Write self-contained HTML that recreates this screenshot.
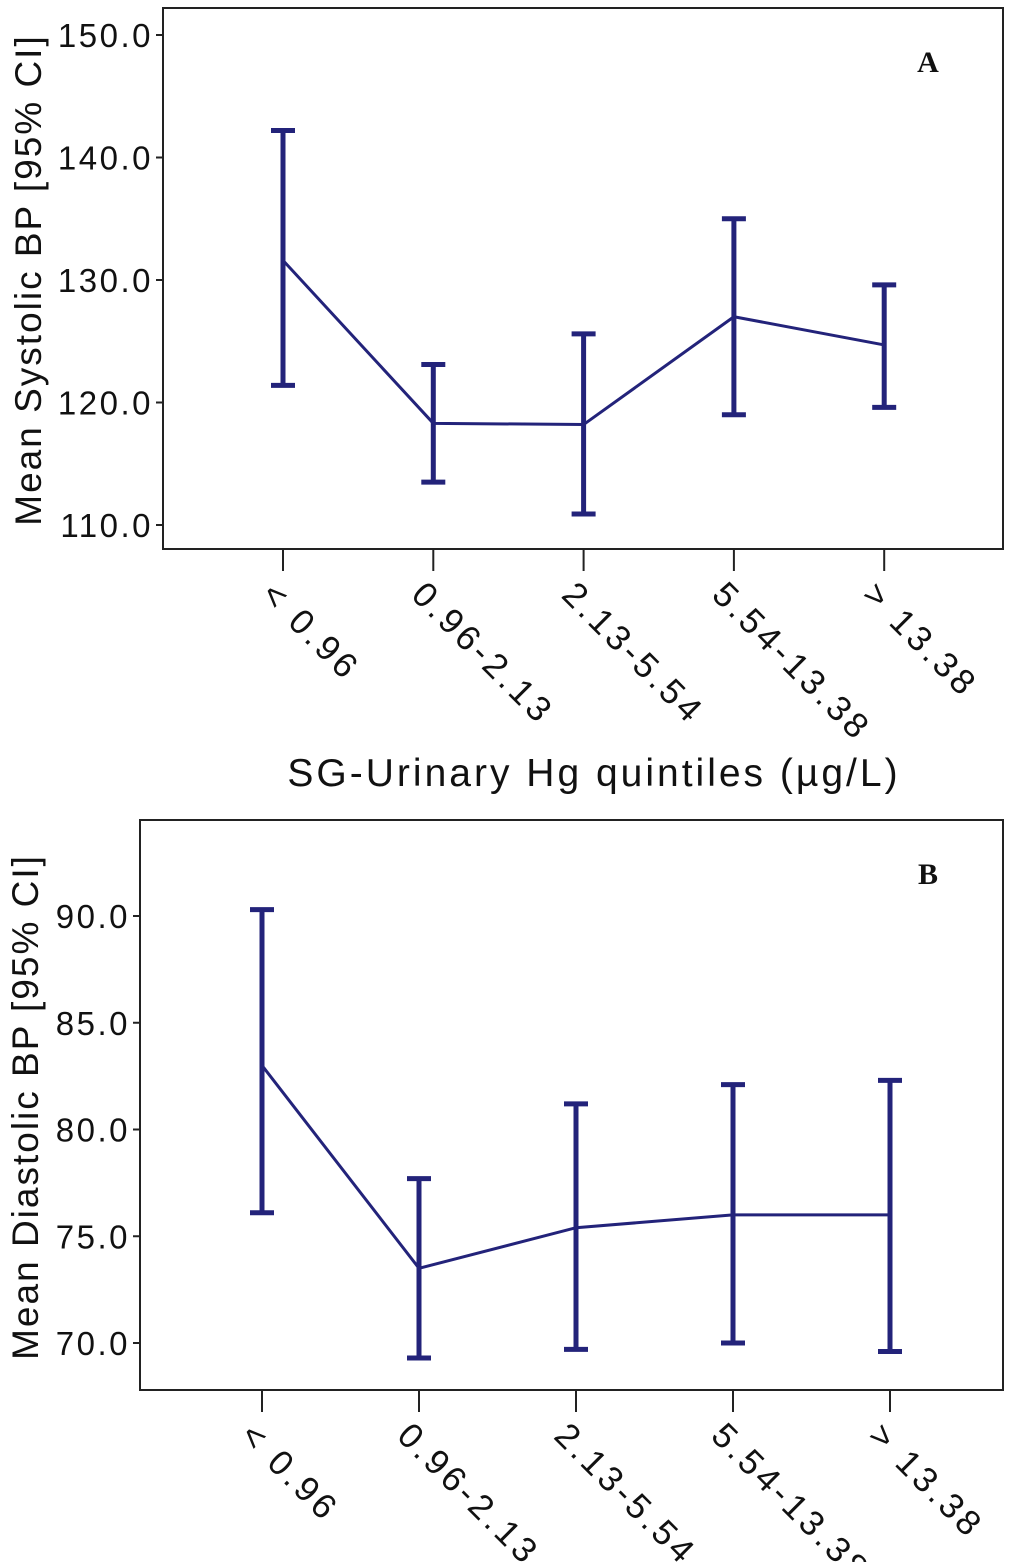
<!DOCTYPE html>
<html><head><meta charset="utf-8"><style>
body{margin:0;background:#fff}
svg{display:block;font-family:"Liberation Sans",sans-serif}
</style></head><body>
<svg id="c" width="1024" height="1562"></svg>
<script>
const categories=["< 0.96","0.96-2.13","2.13-5.54","5.54-13.38","> 13.38"];
const sysMean=[131.6,118.3,118.2,127.0,124.7];
const sysLow=[121.4,113.5,110.9,119.0,119.6];
const sysHigh=[142.2,123.1,125.6,135.0,129.6];
const sysTicks=[110,120,130,140,150];
const diaMean=[83.0,73.5,75.4,76.0,76.0];
const diaLow=[76.1,69.3,69.7,70.0,69.6];
const diaHigh=[90.3,77.7,81.2,82.1,82.3];
const diaTicks=[70,75,80,85,90];
const NS="http://www.w3.org/2000/svg";
const svg=document.getElementById('c');
const COL="#23237a";
function mk(t,a,p){const e=document.createElementNS(NS,t);for(const k in a)e.setAttribute(k,a[k]);(p||svg).appendChild(e);return e;}
function panel(cfg){
 const g=mk('g',{});
 
 
 const y=v=>cfg.y0+(v-cfg.v0)*cfg.sy;
 const x=i=>cfg.x0+i*cfg.dx;
 const box=mk('rect',{x:cfg.L,y:cfg.T,width:cfg.R-cfg.L,height:cfg.B-cfg.T,fill:'none',stroke:'#222','stroke-width':2},g);
 
 cfg.ticks.forEach(t=>{
  mk('line',{x1:cfg.L-7,x2:cfg.L,y1:y(t),y2:y(t),stroke:'#222','stroke-width':2},g);
  const tx=mk('text',{x:cfg.L-10,y:y(t)+12,'text-anchor':'end','font-size':33,fill:'#111','letter-spacing':2.5},g);
  tx.textContent=t.toFixed(1);
  
 });
 categories.forEach((c,i)=>{
  mk('line',{x1:x(i),x2:x(i),y1:cfg.B,y2:cfg.B+22,stroke:'#222','stroke-width':2},g);
  const tx=mk('text',{transform:`translate(${x(i)-6},${cfg.B+30}) rotate(45)`,'font-size':35,fill:'#111','dominant-baseline':'hanging','letter-spacing':4},g);
  tx.textContent=c;
  
 });
 const pl=mk('polyline',{points:cfg.mean.map((m,i)=>x(i)+','+y(m)).join(' '),fill:'none',stroke:COL,'stroke-width':3},g);
 
 cfg.mean.forEach((m,i)=>{
  const eb=mk('path',{d:`M${x(i)},${y(cfg.lo[i])}V${y(cfg.hi[i])}M${x(i)-12},${y(cfg.lo[i])}H${x(i)+12}M${x(i)-12},${y(cfg.hi[i])}H${x(i)+12}`,fill:'none',stroke:COL,'stroke-width':5},g);
  
 });
 const yt=mk('text',{transform:`translate(${cfg.yt},${cfg.ytc}) rotate(-90)`,'text-anchor':'middle','font-size':37,fill:'#111','letter-spacing':2},g);
 yt.textContent=cfg.ytitle;
 
 const lb=mk('text',{x:cfg.R-75,y:cfg.T+64,'text-anchor':'middle','font-size':30,'font-weight':'bold','font-family':'Liberation Serif, serif',fill:'#111'},g);
 lb.textContent=cfg.letter;
 
}
panel({name:'panel-a',L:163,R:1003,T:8,B:549,x0:283,dx:150.3,y0:525,v0:110,sy:-12.25,ticks:sysTicks,mean:sysMean,lo:sysLow,hi:sysHigh,yt:41,ytc:280,ytitle:'Mean Systolic BP [95% CI]',letter:'A'});
panel({name:'panel-b',L:140,R:1003,T:820,B:1390,x0:262,dx:157,y0:1343,v0:70,sy:-21.35,ticks:diaTicks,mean:diaMean,lo:diaLow,hi:diaHigh,yt:38,ytc:1107,ytitle:'Mean Diastolic BP [95% CI]',letter:'B'});
const xt=mk('text',{x:594,y:786,'text-anchor':'middle','font-size':39,fill:'#111','letter-spacing':3});
xt.textContent='SG-Urinary Hg quintiles (µg/L)';


</script>
</body></html>
